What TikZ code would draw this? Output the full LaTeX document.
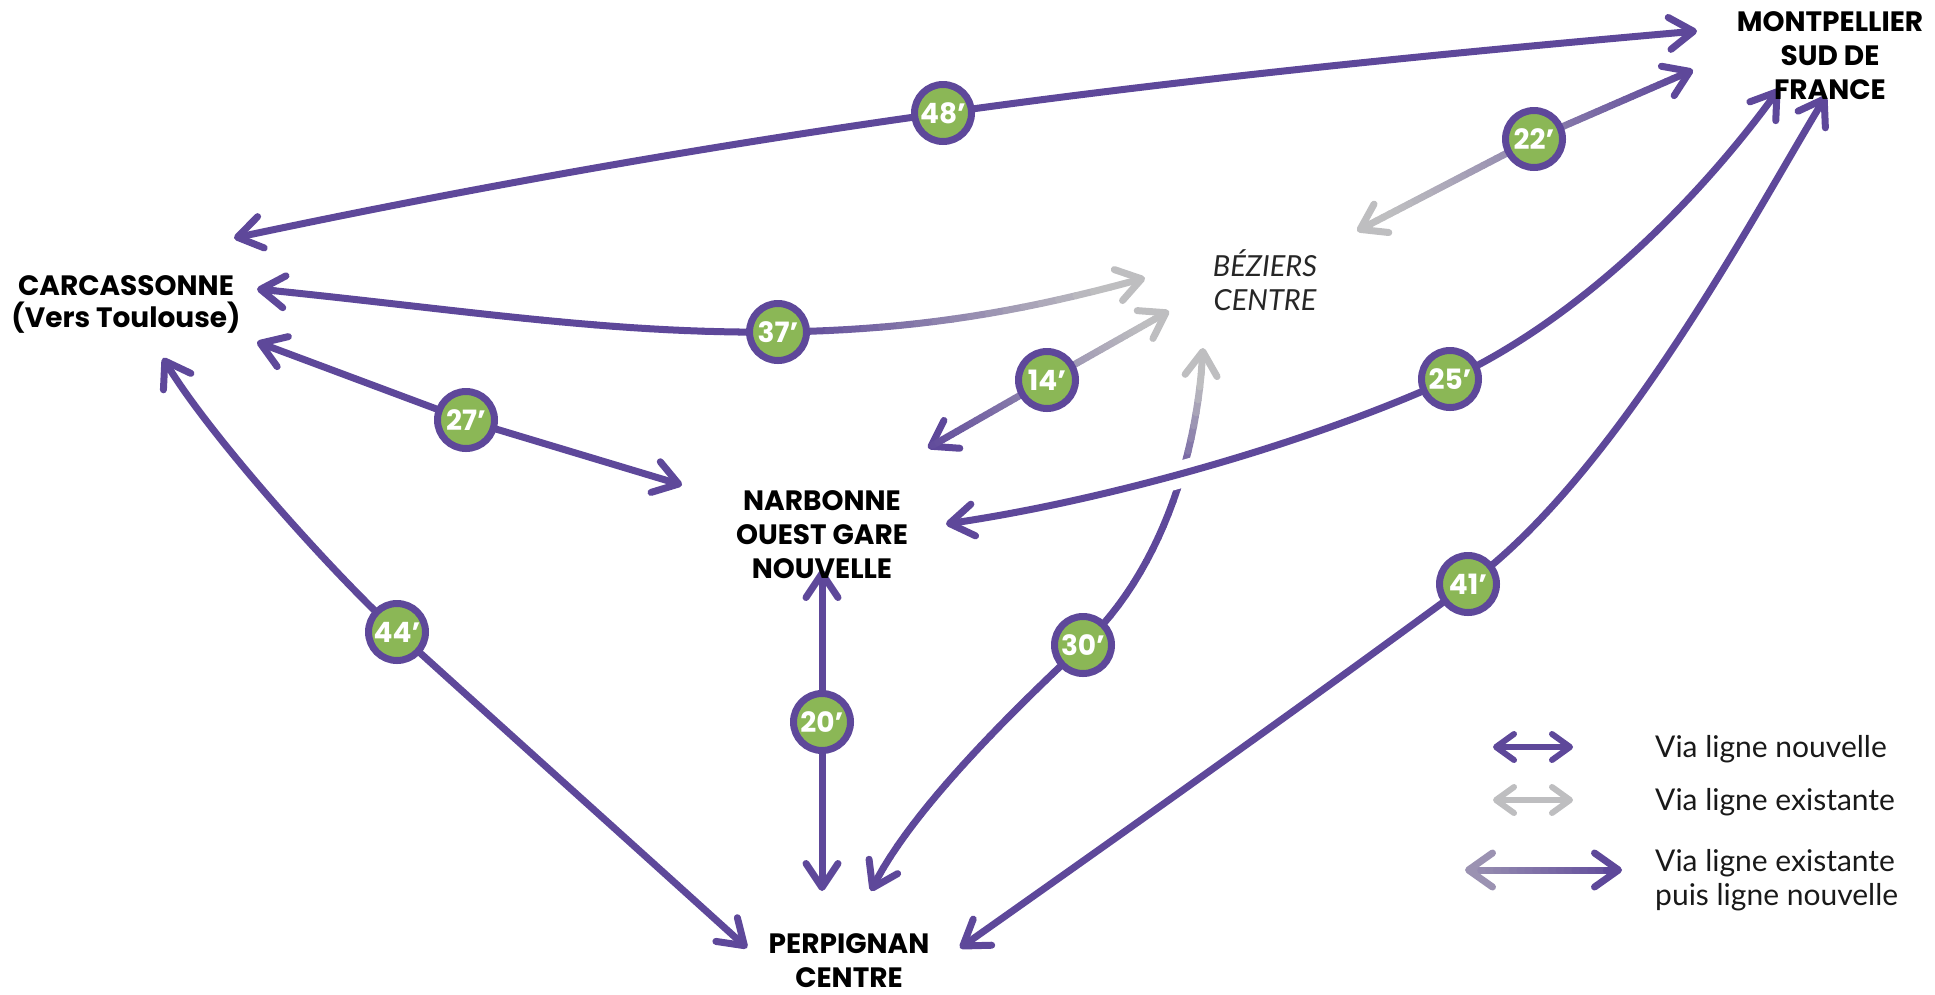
\documentclass[tikz,border=0pt]{standalone}
\usepackage{fontspec}
\setmainfont{Lato}
\newfontfamily\popfont{Poppins}
\usetikzlibrary{arrows.meta,decorations.markings,calc}
\pgfdeclarelayer{bg}
\pgfsetlayers{bg,main}
\definecolor{vio}{RGB}{94,72,154}
\definecolor{gris}{RGB}{190,190,192}
\definecolor{vert}{RGB}{139,183,86}
\tikzset{
  ln/.style={line width=7pt, line cap=round, line join=round},
  chev/.tip={Straight Barb[round,length=24pt,width=32pt]},
  chevs/.tip={Straight Barb[round,length=18pt,width=26pt]},
  chevl/.tip={Straight Barb[round,length=24pt,width=34pt]},
  badge/.style={circle, fill=vert, draw=vio, line width=7pt, minimum size=57pt, inner sep=0pt, text=white, font=\popfont\bfseries\fontsize{28}{28}\selectfont},
  lbl/.style={align=center, font=\popfont\bfseries\fontsize{28}{34}\selectfont, inner sep=0pt},
  leg/.style={inner sep=0pt, font=\fontsize{30}{34}\selectfont, text=black!90},
  marks/.style={postaction=decorate, decoration={markings, mark=between positions 0 and 1 step 0.02 with {\coordinate (#1-\pgfkeysvalueof{/pgf/decoration/mark info/sequence number});}}},
}
\newcommand{\gradline}[5]{%
  \draw[ln, vio, chev-] (#5) -- (#1-2);
  \foreach \i in {2,...,48} {
    \pgfmathtruncatemacro{\j}{\i+1}
    \pgfmathtruncatemacro{\pc}{max(0,min(100,100*(#3-(\i-0.5)/50)/(#3-#2)))}
    \draw[ln, color=vio!\pc!gris] (#1-\i) -- (#1-\j);
  }
  \draw[ln, gris, -chev] (#1-49) -- (#4);
}
\begin{document}
\begin{tikzpicture}[x=1pt,y=-1pt]
\useasboundingbox (0,0) rectangle (1935,994);
% place labels
\node[lbl] (mtp) at (1830,56) {MONTPELLIER\\SUD DE\\FRANCE};
\node[lbl, font=\popfont\bfseries\fontsize{28}{32}\selectfont] (car) at (126,304) {CARCASSONNE\\(Vers Toulouse)};
\node[lbl] (nar) at (822,535) {NARBONNE\\OUEST GARE\\NOUVELLE};
\node[lbl] (per) at (849,961) {PERPIGNAN\\CENTRE};
\node[align=center, inner sep=0pt, font=\itshape\fontsize{29}{34}\selectfont, text=black!85] (bez) at (1265,280) {BÉZIERS\\CENTRE};
% connector ends
\coordinate (car48) at (234,238); \coordinate (mtp48) at (1697,31);
\coordinate (car27) at (257,342); \coordinate (nar27) at (682,485);
\coordinate (car44) at (163,358); \coordinate (per44) at (747,948);
\coordinate (car37) at (257,289); \coordinate (bez37) at (1145,278);
\coordinate (nar20) at (822,570); \coordinate (per20) at (822,891);
\coordinate (nar14) at (928,448); \coordinate (bez14) at (1169,311);
\coordinate (nar25) at (946,524); \coordinate (mtp25) at (1779,89);
\coordinate (bez22) at (1357,231); \coordinate (mtp22) at (1693,70);
\coordinate (per30) at (871,891); \coordinate (bez30) at (1203,348);
\coordinate (per41) at (960,948); \coordinate (mtp41) at (1826,96);
% badges
\node[badge] (b48) at (943,113) {48’};
\node[badge] (b22) at (1534,139) {22’};
\node[badge] (b37) at (778,332) {37’};
\node[badge] (b14) at (1047,380) {14’};
\node[badge] (b25) at (1450,379) {25’};
\node[badge] (b27) at (466,420) {27’};
\node[badge] (b44) at (397,632) {44’};
\node[badge] (b20) at (822,722) {20’};
\node[badge] (b30) at (1083,645) {30’};
\node[badge] (b41) at (1468,584) {41’};
\begin{pgfonlayer}{bg}
% 30 (gradient)
\path[marks=g30] (per30) .. controls +(35,-75) and +(-75,70) .. (b30.center) .. controls +(75,-70) and +(-5,110) .. (bez30);
\gradline{g30}{0.78}{0.95}{bez30}{per30}
% 25 with halo
\draw[white, line width=27pt, shorten <=30pt, shorten >=30pt] (nar25) .. controls +(170,-25) and +(-130,60) .. (b25.center) .. controls +(130,-60) and +(-80,110) .. (mtp25);
\draw[ln, vio, chev-chev] (nar25) .. controls +(170,-25) and +(-130,60) .. (b25.center) .. controls +(130,-60) and +(-80,110) .. (mtp25);
% 48
\draw[ln, vio, chev-chev] (car48) .. controls +(236,-50) and +(-236,33) .. (b48.center) .. controls +(250,-35) and +(-250,22) .. (mtp48);
% 27
\draw[ln, vio, chev-chev] (car27) -- (b27.center) -- (nar27);
% 44
\draw[ln, vio, chev-chev] (car44) .. controls +(45,75) and +(-70,-65) .. (b44.center) .. controls +(117,106) and +(-117,-106) .. (per44);
% 20
\draw[ln, vio, chev-chev] (nar20) -- (b20.center) -- (per20);
% 41
\draw[ln, vio, chev-chev] (per41) .. controls +(170,-120) and +(-170,125) .. (b41.center) .. controls +(150,-110) and +(-70,115) .. (mtp41);
% 37 (gradient)
\path[marks=g37] (car37) .. controls +(200,20) and +(-170,2) .. (b37.center) .. controls +(150,-2) and +(-110,30) .. (bez37);
\gradline{g37}{0.6}{0.95}{bez37}{car37}
% 14 (gradient)
\path[marks=g14] (nar14) -- (b14.center) -- (bez14);
\gradline{g14}{0.0}{0.9}{bez14}{nar14}
% 22 (gradient)
\path[marks=g22] (mtp22) -- (b22.center) -- (bez22);
\gradline{g22}{0.05}{0.9}{bez22}{mtp22}
\end{pgfonlayer}
% legend
\coordinate (l1a) at (1493,747); \coordinate (l1b) at (1573,747);
\coordinate (l2a) at (1493,800); \coordinate (l2b) at (1573,800);
\coordinate (l3a) at (1465,870); \coordinate (l3b) at (1622,870);
\draw[ln, line width=6pt, vio, chevs-chevs] (l1a) -- (l1b);
\draw[ln, line width=6pt, gris, chevs-chevs] (l2a) -- (l2b);
\draw[ln, vio!37!gris, chevl-] (l3a) -- ($(l3a)!0.1!(l3b)$);
\foreach \i in {3,...,18} {
  \pgfmathsetmacro{\ta}{(\i-1)/20}
  \pgfmathsetmacro{\tb}{\i/20}
  \pgfmathtruncatemacro{\pc}{35+65*(\i-0.5)/20}
  \draw[ln, vio!\pc!gris] ($(l3a)!\ta!(l3b)$) -- ($(l3a)!\tb!(l3b)$);
}
\draw[ln, vio, -chevl] ($(l3a)!0.9!(l3b)$) -- (l3b);
\node[leg, anchor=west] (t1) at (1655,749) {Via ligne nouvelle};
\node[leg, anchor=west] (t2) at (1655,802) {Via ligne existante};
\node[leg, anchor=west, align=left] (t3) at (1655,880) {Via ligne existante\\puis ligne nouvelle};
\end{tikzpicture}
\end{document}
